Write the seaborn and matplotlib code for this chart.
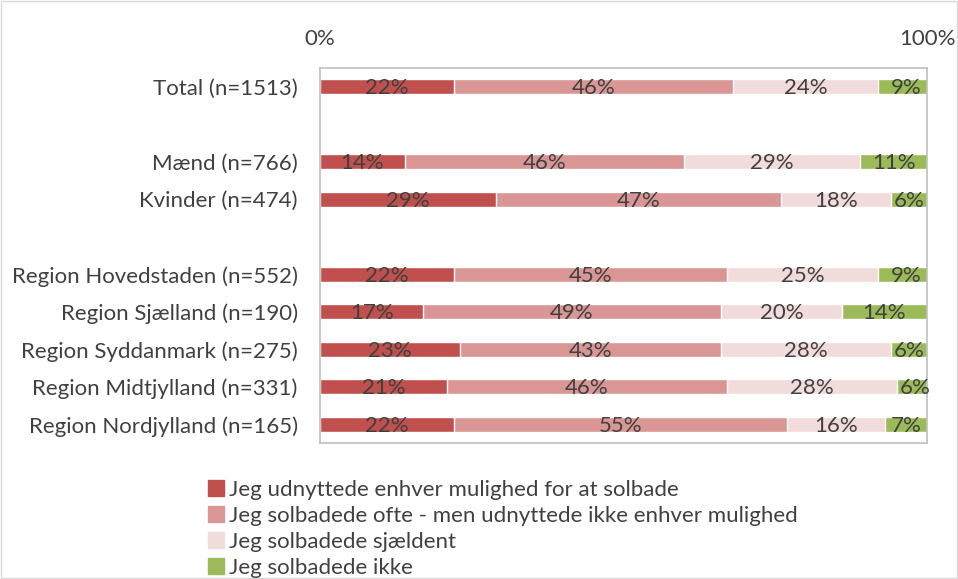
import pandas as pd
import matplotlib.pyplot as plt
import matplotlib.patches as mpatches
import seaborn as sns

sns.set_style("white")
plt.rcParams['font.family'] = ['Lato', 'DejaVu Sans']

# Data (percent)
groups = ["Total (n=1513)", "Mænd (n=766)", "Kvinder (n=474)",
          "Region Hovedstaden (n=552)", "Region Sjælland (n=190)",
          "Region Syddanmark (n=275)", "Region Midtjylland (n=331)",
          "Region Nordjylland (n=165)"]
# row order incl. blank spacer rows
order = ["Total (n=1513)", " ", "Mænd (n=766)", "Kvinder (n=474)", "  ",
         "Region Hovedstaden (n=552)", "Region Sjælland (n=190)",
         "Region Syddanmark (n=275)", "Region Midtjylland (n=331)",
         "Region Nordjylland (n=165)"]
series = ["Jeg udnyttede enhver mulighed for at solbade",
          "Jeg solbadede ofte - men udnyttede ikke enhver mulighed",
          "Jeg solbadede sjældent",
          "Jeg solbadede ikke"]
always = [22, 14, 29, 22, 17, 23, 21, 22]
often = [46, 46, 47, 45, 49, 43, 46, 55]
rarely = [24, 29, 18, 25, 20, 28, 28, 16]
never = [9, 11, 6, 9, 14, 6, 6, 7]
colors = ["#C0504D", "#D99694", "#F2DCDB", "#9BBB59"]

df = pd.DataFrame({"group": groups, series[0]: always, series[1]: often,
                   series[2]: rarely, series[3]: never})
cum = df[series].cumsum(axis=1)

fig = plt.figure(figsize=(9.58, 5.79), dpi=100)
ax = fig.add_axes([320 / 958, 1 - 443 / 579, 607 / 958, 375 / 579])

# draw cumulative bars back to front
for s, c in reversed(list(zip(series, colors))):
    sns.barplot(x=cum[s], y=df["group"], order=order, color=c, width=0.4,
                orient="h", ax=ax, saturation=1)

txt = "#404040"
fs = 16
pos = {g: order.index(g) for g in groups}
for s in series:
    starts = cum[s] - df[s]
    for g, st, v in zip(groups, starts, df[s]):
        ax.text(st + v / 2, pos[g] + 0.04, f"{v}%", ha="center", va="center",
                fontsize=fs, color=txt)

ax.set_xlim(0, 100)
ax.set_ylim(9.5, -0.5)
ax.set_xlabel("")
ax.set_ylabel("")
ax.xaxis.tick_top()
ax.set_xticks([0, 100])
ax.set_xticklabels(["0%", "100%"])
ax.tick_params(axis="x", length=0, pad=14, labelsize=fs, colors=txt)
ax.tick_params(axis="y", length=0, pad=16, labelsize=fs, colors=txt)
for sp in ax.spines.values():
    sp.set_color("#BFBFBF")
    sp.set_linewidth(1.2)

handles = [mpatches.Patch(color=c, label=s) for s, c in zip(series, colors)]
leg = fig.legend(handles=handles, loc="upper left",
                 bbox_to_anchor=(188 / 958, 1 - 460 / 579), frameon=False,
                 handlelength=0.7, handleheight=0.7, handletextpad=0.25,
                 labelspacing=0.27, fontsize=fs)
for t in leg.get_texts():
    t.set_color(txt)

fig.patches.append(mpatches.Rectangle((0.001, 0.001), 0.998, 0.998,
                                      transform=fig.transFigure, fill=False,
                                      edgecolor="#D9D9D9", linewidth=1))

fig.savefig("out.png", dpi=100)
